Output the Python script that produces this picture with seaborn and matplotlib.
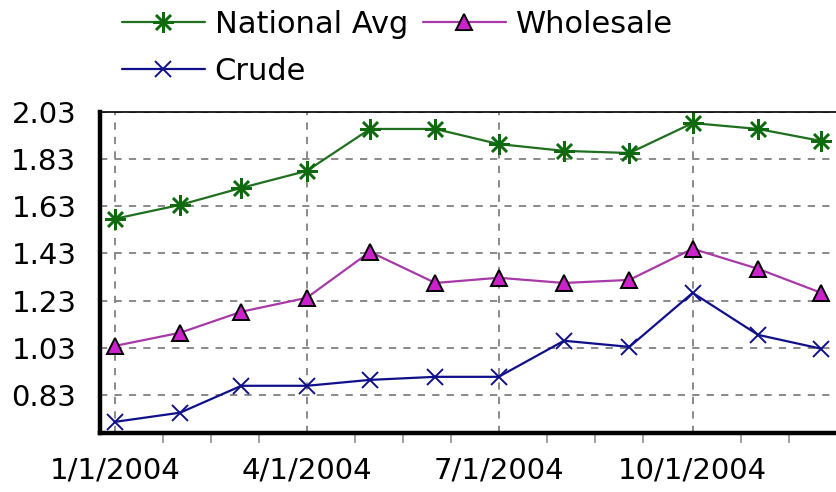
import pandas as pd
import numpy as np
import matplotlib
matplotlib.use("Agg")
import matplotlib.pyplot as plt
import matplotlib.dates as mdates
import seaborn as sns

sns.set_style("white")
plt.rcParams['font.family'] = ['DejaVu Sans']
plt.rcParams['text.color'] = 'black'

# monthly prices, 2004
dates = pd.date_range("2004-01-01", periods=12, freq="MS")
national_avg = [1.577, 1.636, 1.708, 1.780, 1.958, 1.958, 1.894, 1.865, 1.856, 1.983, 1.958, 1.907]
wholesale = [1.038, 1.094, 1.183, 1.242, 1.437, 1.305, 1.327, 1.305, 1.318, 1.450, 1.365, 1.263]
crude = [0.716, 0.755, 0.869, 0.869, 0.894, 0.907, 0.907, 1.060, 1.034, 1.263, 1.085, 1.026]
yticks = [0.83, 1.03, 1.23, 1.43, 1.63, 1.83, 2.03]
xticks = ["2004-01-01", "2004-04-01", "2004-07-01", "2004-10-01"]

df = pd.DataFrame({"date": dates, "National Avg": national_avg,
                   "Wholesale": wholesale, "Crude": crude})

fig = plt.figure(figsize=(8.37, 4.92), dpi=100)
ax = fig.add_axes([0.1195, 0.12, 0.8805, 0.6524])
ax.set_axisbelow(True)

sns.lineplot(data=df, x="date", y="National Avg", ax=ax, color="#1f6f1f", lw=1.6,
             marker=(8, 2, 0), markersize=15, markeredgecolor="#0f6a0f",
             markeredgewidth=1.8, label="National Avg", clip_on=False)
sns.lineplot(data=df, x="date", y="Wholesale", ax=ax, color="#a83aa8", lw=1.6,
             marker="^", markersize=12, markerfacecolor="#cc22cc",
             markeredgecolor="black", markeredgewidth=1.4, label="Wholesale", clip_on=False)
sns.lineplot(data=df, x="date", y="Crude", ax=ax, color="#10108a", lw=1.6,
             marker="x", markersize=12, markeredgecolor="#10108a",
             markeredgewidth=1.4, label="Crude", clip_on=False)

ax.set_xlim(pd.Timestamp("2003-12-25"), pd.Timestamp("2004-12-04"))
ax.set_ylim(0.669, 2.03)

ax.set_xticks(pd.to_datetime(xticks))
ax.xaxis.set_major_formatter(plt.FuncFormatter(
    lambda v, p: "{d.month}/{d.day}/{d.year}".format(d=mdates.num2date(v))))
minor = []
for a in pd.to_datetime(xticks):
    minor += [a + pd.Timedelta(days=k * 91.25 / 4) for k in (1, 2, 3)]
ax.set_xticks(minor, minor=True)

ax.set_yticks(yticks)
ax.set_yticklabels(["%.2f" % v for v in yticks])

ax.set_xlabel("")
ax.set_ylabel("")
ax.grid(True, which="major", color="#808080", linestyle=(0, (4, 4)), lw=1.3)

ax.tick_params(axis="both", which="major", labelsize=21, colors="#808080",
               labelcolor="black", length=11, width=1.3, direction="out")
ax.tick_params(axis="x", which="minor", length=7, width=1.2, colors="#909090",
               direction="out", bottom=True)
ax.tick_params(axis="x", pad=6)
ax.tick_params(axis="y", pad=6)

for side in ("left", "bottom"):
    ax.spines[side].set_linewidth(3.2)
    ax.spines[side].set_color("black")
ax.spines["top"].set_linewidth(1.2)
ax.spines["top"].set_color("black")
ax.spines["right"].set_visible(False)

# legend: two rows, Crude alone on the second
h, l = ax.get_legend_handles_labels()
ax.get_legend().remove()
order = [0, 2, 1]
fig.legend([h[i] for i in order], [l[i] for i in order], ncol=2, frameon=False,
           loc="upper left", bbox_to_anchor=(0.1458, 0.98), borderpad=0,
           borderaxespad=0, fontsize=22, handlelength=2.7, handletextpad=0.33,
           columnspacing=0.5, labelspacing=0.58)

fig.savefig("out.png", dpi=100)
